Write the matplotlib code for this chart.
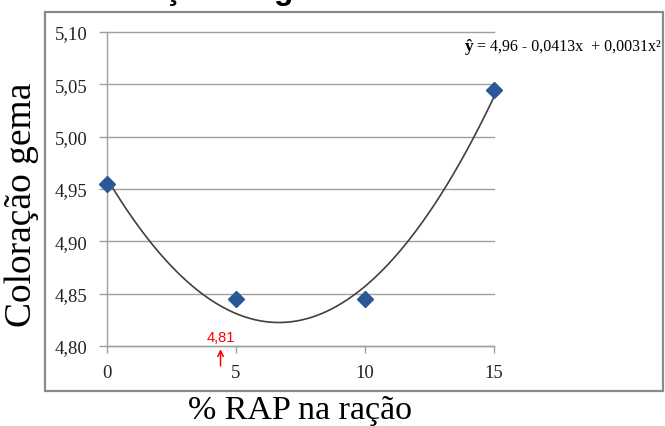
import matplotlib
matplotlib.use("Agg")
import matplotlib.pyplot as plt
import numpy as np
from matplotlib.patches import Rectangle

# ---- data ----
rap_levels = [0, 5, 10, 15]
yolk_color = [4.955, 4.845, 4.845, 5.045]
fit_coefs = [4.96, -0.0413, 0.0031]   # y = a + b x + c x^2
y_ticks = [4.80, 4.85, 4.90, 4.95, 5.00, 5.05, 5.10]
y_tick_labels = ["4,80", "4,85", "4,90", "4,95", "5,00", "5,05", "5,10"]
x_ticks = [0, 5, 10, 15]
x_tick_labels = ["0", "5", "10", "15"]
marker_x = 4.4
marker_label = "4,81"
equation_rest = " = 4,96 - 0,0413x  + 0,0031x\u00b2"

W, H = 665, 427
fig = plt.figure(figsize=(W / 100, H / 100), dpi=100)
fig.patch.set_facecolor("white")

def fx(px):
    return px / W

def fy(py):
    return 1 - py / H

serif = ["Liberation Serif", "DejaVu Serif"]

# outer frame
fig.patches.append(Rectangle((fx(45), fy(392)), fx(663) - fx(45), fy(13) - fy(392),
                             transform=fig.transFigure, fill=False,
                             edgecolor="#8a8a8a", linewidth=1.6, zorder=0))

# cut-off title at very top (only descenders visible)
fig.text(fx(63), fy(-1), "Coloração da gema", fontsize=23, fontweight="bold",
         family=["Liberation Sans", "DejaVu Sans"], ha="left", va="baseline")

ax = fig.add_axes([fx(107), fy(347), fx(494) - fx(107), fy(33) - fy(347)])
ax.set_facecolor("none")
ax.set_xlim(0, 15)
ax.set_ylim(4.80, 5.10)

grid_col = "#a0a0a0"
for yv in y_ticks:
    ax.axhline(yv, color=grid_col, linewidth=1.0, zorder=1, clip_on=False)

for s in ["top", "right"]:
    ax.spines[s].set_visible(False)
ax.spines["left"].set_color(grid_col)
ax.spines["bottom"].set_color(grid_col)
ax.spines["left"].set_linewidth(1.0)
ax.spines["bottom"].set_linewidth(1.0)

ax.set_yticks(y_ticks)
ax.set_yticklabels(y_tick_labels, family=serif, fontsize=13.5, color="#222222")
ax.set_xticks(x_ticks)
ax.set_xticklabels(x_tick_labels, family=serif, fontsize=13.5, color="#222222")
ax.tick_params(axis="y", length=6, width=1.0, color=grid_col, pad=8)
ax.tick_params(axis="x", length=5, width=1.0, color=grid_col, pad=8)

# fitted curve
xs = np.linspace(min(rap_levels), max(rap_levels), 300)
ys = fit_coefs[0] + fit_coefs[1] * xs + fit_coefs[2] * xs ** 2
ax.plot(xs, ys, color="#404040", linewidth=1.2, zorder=3)

# observed points
ax.plot(rap_levels, yolk_color, linestyle="none", marker="D", markersize=8,
        color="#2b5797", markeredgecolor="#2b5797", zorder=4, clip_on=False)

# red annotation
ax.annotate("", xy=(marker_x, 4.797), xytext=(marker_x, 4.781),
            arrowprops=dict(arrowstyle="->", color="#ff0000", lw=1.1,
                            shrinkA=0, shrinkB=0), annotation_clip=False)
ax.text(marker_x, 4.8085, marker_label, color="#ff0000", fontsize=10.5,
        family=["Liberation Sans", "DejaVu Sans"], ha="center", va="center",
        clip_on=False)

# equation (right aligned at the frame edge)
eq = fig.text(fx(661), fy(47), equation_rest, family=serif, fontsize=11.5,
              ha="right", va="center")
fig.canvas.draw()
bb = eq.get_window_extent()
fig.text(bb.x0 / W, fy(47), "\u0177", family=serif, fontsize=12.5,
         fontweight="bold", ha="right", va="center")

# axis labels
fig.text(fx(300), fy(411), "% RAP na ração", family=serif, fontsize=24.5,
         ha="center", va="center")
fig.text(fx(22), fy(205), "Coloração gema", family=serif, fontsize=27,
         ha="center", va="center", rotation=90)

fig.savefig("out.png", dpi=100)
